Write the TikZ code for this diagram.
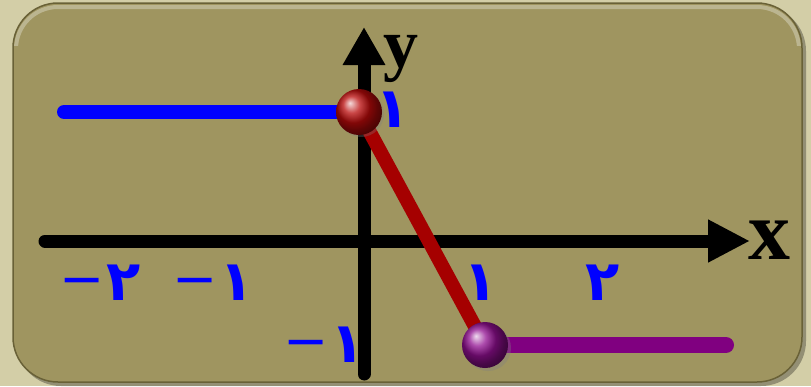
\documentclass[tikz,border=0pt]{standalone}
\usepackage{fontspec}
\setmainfont{Liberation Serif}
\newfontfamily\arfont{DejaVu Sans}
\usetikzlibrary{arrows.meta,shadows}
\definecolor{bgc}{RGB}{211,206,167}
\definecolor{panel}{RGB}{159,149,96}
\definecolor{paneledge}{RGB}{105,97,55}
\definecolor{redline}{RGB}{165,0,0}
\definecolor{redball}{RGB}{185,10,10}
\definecolor{purpline}{RGB}{128,0,128}
\definecolor{purpball}{RGB}{145,15,145}
\definecolor{lab}{RGB}{0,0,255}
\newcommand{\mn}{\raisebox{3pt}{\mdseries\fontsize{54}{54}\selectfont −}\hspace{2pt}}
\tikzset{
  axis/.style={line width=13pt, line cap=round, black},
  seg/.style={line width=15pt, line cap=round},
  ballnode/.style={circle, inner sep=0pt, minimum size=46pt, shading=ball},
  num/.style={text=lab, font=\arfont\bfseries\fontsize{56}{56}\selectfont, inner sep=0pt},
  axlab/.style={inner sep=0pt, font=\bfseries}
}
\begin{document}
\begin{tikzpicture}[x=1pt,y=-1pt]
\useasboundingbox (0,0) rectangle (811,386);
\fill[bgc] (0,0) rectangle (811,386);
% panel
\fill[black, opacity=0.3, rounded corners=45pt] (16,6) rectangle (806,386);
\fill[panel, rounded corners=45pt] (13,3) rectangle (802,382);
\begin{scope}
  \clip (0,0) rectangle (811,45);
  \draw[white, opacity=0.3, line width=4pt, rounded corners=42pt] (16,7) rectangle (799,379);
\end{scope}
\draw[paneledge, line width=1.5pt, rounded corners=45pt] (13,3) rectangle (802,382);

% coordinates
\coordinate (xs) at (45,241);
\coordinate (xe) at (750,241);
\coordinate (ys) at (364,374);
\coordinate (ye) at (364,27);
\coordinate (A) at (359,112);
\coordinate (B) at (485,345);
\coordinate (bl) at (64,112);
\coordinate (pe) at (726,345);

% axes
\draw[axis, -{Triangle[length=42pt,width=40pt]}] (xs) -- (xe);
\draw[axis, -{Triangle[length=38pt,width=40pt]}] (ys) -- (ye);
\node[axlab, font=\bfseries\fontsize{84}{84}\selectfont] (xl) at (769,240) {x};
\node[axlab, font=\bfseries\fontsize{70}{70}\selectfont] (yl) at (401,59) {y};

% graph
\draw[seg, lab, line width=14pt] (bl) -- (A);
\draw[seg, redline, line width=14pt] (A) -- (B);
\draw[seg, purpline, line width=16pt] (B) -- (pe);
\node[ballnode, ball color=redball, drop shadow={shadow xshift=2pt, shadow yshift=-2pt, opacity=0.3}] (ballA) at (A) {};
\node[ballnode, ball color=purpball, drop shadow={shadow xshift=3pt, shadow yshift=-3pt, opacity=0.35}] (ballB) at (B) {};

% labels
\node[num] (ly1) at (393,110) {١};
\node[num] (lm2) at (100,283) {\mn ٢};
\node[num] (lm1) at (213,283) {\mn ١};
\node[num] (l1) at (481,283) {١};
\node[num] (l2) at (603,283) {٢};
\node[num] (lym1) at (324,345) {\mn ١};
\end{tikzpicture}
\end{document}
